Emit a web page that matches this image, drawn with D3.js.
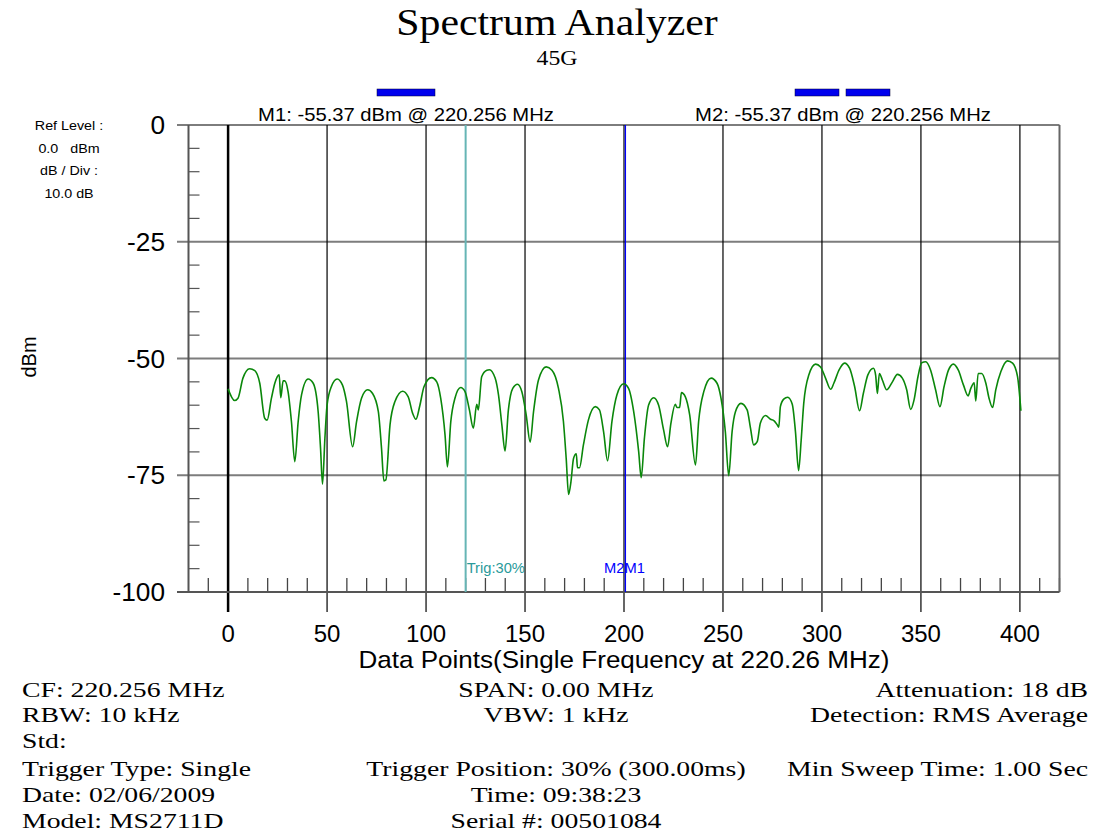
<!DOCTYPE html>
<html><head><meta charset="utf-8">
<script src="https://cdn.jsdelivr.net/npm/d3@7"></script>
<style>body{margin:0;background:#fff}svg{display:block}</style>
</head><body>
<script>
// ---- data ----
const pointIndex = [0,3.3,5,7.5,10.9,13.5,16,18.5,19.7,21.9,
23.6,25.8,26.6,27.8,28.6,30.3,32,33.7,35.4,37.1,
40.4,43,45.5,46.7,47.7,48.9,50,52.2,55.1,57.8,
59.8,62.9,64.9,67.4,70.5,73,75.9,77.5,78.7,79.7,
81.8,84.3,88.2,91,93.2,94.9,96.9,99,102.8,105.4,
107.4,109.6,110.8,112.5,114.6,117.5,119.7,121.9,123.9,125.6,
126.4,128.1,130.7,132,134.9,136.6,138.3,139.9,141.6,143.8,
146.2,148.4,150.6,152.6,154.3,156.8,160.7,163.6,166.9,169.4,
170.8,172,173.2,174.5,175.9,176.5,177.5,179.5,182,185.5,
187.6,189.7,191.7,193.9,196.4,199.8,202.3,204.9,207.4,208.7,
210.3,212.4,215,217.5,220,222,223.7,225.9,226.8,228.1,
229,231,233.2,236.1,237.7,240.3,244,247,249,251.2,
252.9,254.6,256.3,259.1,262.2,263.9,265.5,267.3,268.9,271.5,
274,275.7,277.4,278.2,279,280.7,282.7,285,286.6,288.2,
289.5,290.8,293.4,296.8,299.3,301.8,304.4,306,308.6,311.4,
314,316.5,319,320.9,323.2,326,327.1,328,329,330.5,
332.7,335.6,338.1,340.6,342.8,344.8,346.5,348.5,350.4,352.4,
354.9,357.4,359.6,361.7,363.9,366.4,368.9,371.5,373.8,375.2,
376.9,377.7,378.9,380.7,382.8,384.4,386.2,387.8,390.4,393.7,
396.3,398.8,400.5];
const levelDbm = [-56.5,-59.0,-58.5,-54.2,-52.2,-52.6,-55.3,-62.8,-63.2,-58.5,
-55.3,-53.5,-58.4,-54.8,-54.8,-57.1,-63.5,-72.1,-63.5,-57.8,
-54.4,-55.3,-61.4,-69.2,-76.9,-67.1,-60,-56,-54.4,-55.7,
-59.2,-68.9,-63.5,-58.5,-56.7,-57.5,-61.4,-69.2,-76.2,-76.0,
-64.2,-59.2,-57,-58.2,-61.7,-63,-60,-56,-54.1,-55,
-58.5,-66.4,-73.2,-63.5,-58.5,-56.2,-57.1,-61,-64.9,-59.8,
-61,-53.9,-52.5,-52.4,-54.2,-57.8,-64.2,-69.8,-61,-56.4,
-55.5,-57.1,-62.1,-67.9,-61.4,-54.6,-51.8,-52.5,-56.4,-63.5,
-71.4,-79.1,-76.4,-71.4,-70.4,-73.4,-73.4,-68.5,-63.2,-60.3,
-61,-65.7,-71.9,-63.5,-57.8,-55.4,-56.4,-61.4,-69.9,-75.5,
-67.1,-60,-58.4,-60,-65.3,-68.9,-63.9,-59.8,-60.5,-60.5,
-57.3,-58.2,-62.1,-72.8,-63.5,-57.1,-54.2,-55.3,-58.5,-65.7,
-75.1,-65.7,-61.4,-59.6,-61,-64.9,-68.5,-67.8,-63.8,-62.2,
-63,-63.3,-64.2,-64.7,-60.3,-58.7,-58.3,-59.8,-65.6,-74,
-67.5,-59.6,-53.5,-51.2,-51.8,-54.2,-56.6,-55.3,-52.5,-51,
-52.1,-56,-61.2,-57.5,-53.5,-52.1,-53.5,-57.5,-53.2,-54.6,
-56.7,-55,-53.4,-54.2,-56.7,-60.9,-58.9,-53.9,-50.9,-50.7,
-52.5,-56.7,-60.3,-56,-52.5,-51.2,-52.5,-55.7,-58,-56.4,
-55.2,-59.1,-53.2,-53.2,-55.3,-58.5,-60.5,-56.7,-52.8,-50.5,
-51,-53.9,-61.2];
const xTickValues = [0,50,100,150,200,250,300,350,400];
const yTickValues = [0,-25,-50,-75,-100];
const triggerPoint = 120;
const markerPoint = 200;
const titleText = "Spectrum Analyzer";
const subtitleText = "45G";
const markerTexts = ["M1: -55.37 dBm @ 220.256 MHz","M2: -55.37 dBm @ 220.256 MHz"];
const refInfo = ["Ref Level :","0.0   dBm","dB / Div :","10.0 dB"];
const xAxisTitle = "Data Points(Single Frequency at 220.26 MHz)";
const yAxisTitle = "dBm";
const footerLeft = ["CF: 220.256 MHz","RBW: 10 kHz","Std:","Trigger Type: Single","Date: 02/06/2009","Model: MS2711D"];
const footerCenter = ["SPAN: 0.00 MHz","VBW: 1 kHz","","Trigger Position: 30% (300.00ms)","Time: 09:38:23","Serial #: 00501084"];
const footerRight = ["Attenuation: 18 dB","Detection: RMS Average","","Min Sweep Time: 1.00 Sec","",""];

// ---- drawing ----
const W = 1094, H = 834;
const sans = "'Liberation Sans', Arial, Helvetica, sans-serif";
const serif = "'Liberation Serif', 'Times New Roman', serif";
const svg = d3.select("body").append("svg").attr("width", W).attr("height", H);

const x = d3.scaleLinear().domain([-20, 420]).range([188.5, 1059.5]);
const y = d3.scaleLinear().domain([-100, 0]).range([592, 125]);

// text helper: horizontally stretched text anchored at (tx, ty)
function label(parent, str, tx, ty, opts) {
  const s = opts.sx || 1;
  return parent.append("text")
    .attr("transform", `translate(${tx},${ty}) scale(${s},1)`)
    .attr("text-anchor", opts.anchor || "start")
    .attr("fill", opts.fill || "#000")
    .style("font-family", opts.family || sans)
    .style("font-size", opts.size + "px")
    .style("white-space", "pre")
    .text(str);
}

// title
label(svg, titleText, 557, 35, {family: serif, size: 37, sx: 1.13, anchor: "middle"});
label(svg, subtitleText, 557, 65, {family: serif, size: 22, sx: 1.08, anchor: "middle"});

// marker bars (legend decorations)
[[377, 58], [795, 44], [846, 44]].forEach(([bx, bw]) => {
  svg.append("rect").attr("x", bx).attr("y", 89).attr("width", bw).attr("height", 7)
    .attr("fill", "#0000ee").attr("stroke", "#000033").attr("stroke-width", 0.5);
});
markerTexts.forEach((t, i) => label(svg, t, [406, 843][i], 121, {size: 19, sx: 1.065, anchor: "middle"}));

// ref info
refInfo.forEach((t, i) => label(svg, t, 69, 130 + i * 22.7, {size: 13, sx: 1.1, anchor: "middle"}));

const g = svg.append("g");

// horizontal grid lines
g.selectAll(".hg").data(yTickValues.filter(v => v > -100)).join("line")
  .attr("x1", 177).attr("x2", x(420)).attr("y1", d => y(d)).attr("y2", d => y(d))
  .attr("stroke", "#7d7d7d").attr("stroke-width", 2);

// minor y ticks
g.selectAll(".ymt").data(d3.range(-95, 0, 5).filter(v => v % 25 !== 0)).join("line")
  .attr("x1", x(-20)).attr("x2", x(-20) + 11).attr("y1", d => y(d)).attr("y2", d => y(d))
  .attr("stroke", "#555").attr("stroke-width", 1.2);

// vertical major lines
g.selectAll(".vg").data(xTickValues).join("line")
  .attr("x1", d => x(d)).attr("x2", d => x(d)).attr("y1", y(0)).attr("y2", 612)
  .attr("stroke", "#000").attr("stroke-width", d => d === 0 ? 2.5 : 1.2);

// minor x ticks
g.selectAll(".xmt").data(d3.range(-10, 421, 10).filter(v => v % 50 !== 0)).join("line")
  .attr("x1", d => x(d)).attr("x2", d => x(d)).attr("y1", 592).attr("y2", 578)
  .attr("stroke", "#444").attr("stroke-width", 1.3);

// left axis, right border, bottom axis
g.append("line").attr("x1", x(-20)).attr("x2", x(-20)).attr("y1", y(0)).attr("y2", y(-100))
  .attr("stroke", "#555").attr("stroke-width", 2);
g.append("line").attr("x1", x(420)).attr("x2", x(420)).attr("y1", y(0)).attr("y2", y(-100))
  .attr("stroke", "#666").attr("stroke-width", 2);
g.append("line").attr("x1", 177).attr("x2", x(420)).attr("y1", y(-100)).attr("y2", y(-100))
  .attr("stroke", "#555").attr("stroke-width", 2);

// trigger line
g.append("line").attr("x1", x(triggerPoint)).attr("x2", x(triggerPoint)).attr("y1", y(0)).attr("y2", y(-100))
  .attr("stroke", "#66b5b5").attr("stroke-width", 2);
label(g, "Trig:30%", x(triggerPoint) + 1, 573, {size: 14, sx: 1.05, fill: "#2a9a9a"});

// marker line (beside the black 200 grid line)
g.append("line").attr("x1", x(markerPoint) + 1.4).attr("x2", x(markerPoint) + 1.4).attr("y1", y(0)).attr("y2", y(-100))
  .attr("stroke", "#0000ff").attr("stroke-width", 1.3);
label(g, "M2M1", x(markerPoint) - 20, 573, {size: 14, sx: 1.05, fill: "#0000ff"});

// trace
const pts = pointIndex.map((p, i) => [p, levelDbm[i]]);
const line = d3.line().x(d => x(d[0])).y(d => y(d[1])).curve(d3.curveMonotoneX);
g.append("path").datum(pts).attr("d", line).attr("fill", "none")
  .attr("stroke", "#0a870a").attr("stroke-width", 1.6).attr("stroke-linejoin", "round");

// tick labels
yTickValues.forEach(v => label(svg, String(v), 165, y(v) + 9, {size: 25, sx: 1.05, anchor: "end"}));
xTickValues.forEach(v => label(svg, String(v), x(v), 642, {size: 24, anchor: "middle"}));

label(svg, xAxisTitle, 624, 668, {size: 24, sx: 1.085, anchor: "middle"});
svg.append("text").attr("transform", "translate(36,357) rotate(-90)").attr("text-anchor", "middle")
  .style("font-family", sans).style("font-size", "20px").text(yAxisTitle);

// footer
const rowY = [697, 722, 748, 776, 802, 828];
const fopts = {family: serif, size: 22, sx: 1.26};
footerLeft.forEach((t, i) => label(svg, t, 22, rowY[i], {...fopts, anchor: "start"}));
footerCenter.forEach((t, i) => label(svg, t, 556, rowY[i], {...fopts, anchor: "middle"}));
footerRight.forEach((t, i) => label(svg, t, 1088, rowY[i], {...fopts, anchor: "end"}));
</script>
</body></html>
